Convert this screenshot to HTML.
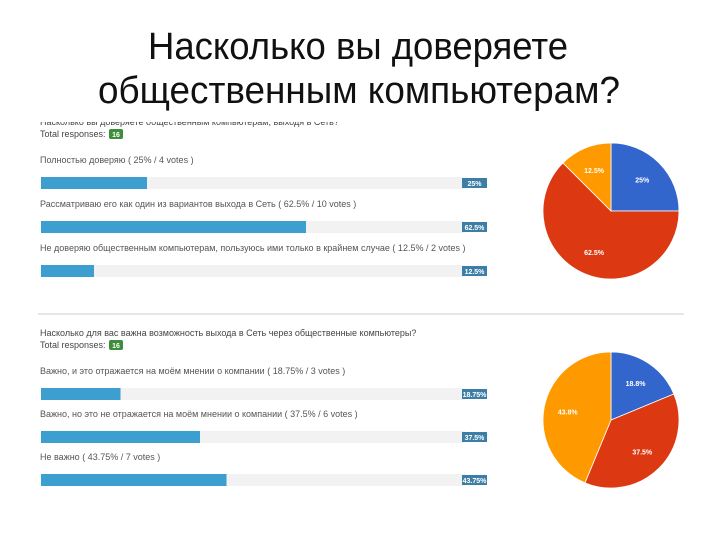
<!DOCTYPE html>
<html><head><meta charset="utf-8"><style>
html,body{margin:0;padding:0;background:#fff;width:720px;height:540px;overflow:hidden}
</style></head><body>
<svg id="s" width="720" height="540" xmlns="http://www.w3.org/2000/svg" font-family="Liberation Sans, sans-serif">
<g id="g"></g>
<rect x="30" y="108" width="330" height="14" fill="#fff"/>
<text x="358" y="59" text-anchor="middle" font-size="38" textLength="420" lengthAdjust="spacingAndGlyphs" fill="#111">Насколько вы доверяете</text>
<text x="359" y="103" text-anchor="middle" font-size="38" textLength="522" lengthAdjust="spacingAndGlyphs" fill="#111">общественным компьютерам?</text>
</svg>
<script>
const q1Labels=["Полностью доверяю","Рассматриваю его как один из вариантов выхода в Сеть","Не доверяю общественным компьютерам, пользуюсь ими только в крайнем случае"];
const q1Values=[25,62.5,12.5];
const q1Votes=[4,10,2];
const q1Pie=[25,62.5,12.5];
const q2Labels=["Важно, и это отражается на моём мнении о компании","Важно, но это не отражается на моём мнении о компании","Не важно"];
const q2Values=[18.75,37.5,43.75];
const q2Votes=[3,6,7];
const pieColors=["#3366cc","#dc3912","#ff9900"];
const NS="http://www.w3.org/2000/svg";
const g=document.getElementById('g');
function mk(t,a,txt){const e=document.createElementNS(NS,t);for(const k in a)e.setAttribute(k,a[k]);if(txt!=null)e.textContent=txt;g.appendChild(e);return e;}
const trackX=41,trackW=424;
function xs(v){return trackW*v/100;}
function fmt(v){return (Math.round(v*100)/100)+'%';}
function section(labels,values,votes,question,qy,labelYs,name){
  if(question){const t=mk('text',{x:40,y:qy,'font-size':9,fill:'#444'},question);
  
  }
  const tt=mk('text',{x:40,y:qy+12,'font-size':9,fill:'#444'},'Total responses:');
  
  
  const b=mk('rect',{x:109,y:qy+4,width:14,height:10,rx:2,fill:'#3c8d3c'});
  
  
  const bt=mk('text',{x:116,y:qy+12,'font-size':7,'font-weight':'bold',fill:'#fff','text-anchor':'middle'},'16');
  
  
  labels.forEach((l,i)=>{
    const y=labelYs[i];
    const lt=mk('text',{x:40,y:y,'font-size':9,fill:'#555'},l+' ( '+values[i]+'% / '+votes[i]+' votes )');
    
    
    const tr=mk('rect',{x:trackX,y:y+14,width:trackW,height:12,fill:'#f2f2f2'});
    
    
    const f=mk('rect',{x:trackX,y:y+14,width:xs(values[i]),height:12,fill:'#3d9fd0'});
    
    
    const pl=mk('rect',{x:462,y:y+15,width:25,height:10,fill:'#3d7ea6'});
    
    
    const pt=mk('text',{x:474.5,y:y+23,'font-size':7,'font-weight':'bold',fill:'#fff','text-anchor':'middle'},fmt(values[i]));
    
    
  });
}
function pie(vals,cx,cy,r,name){
  let a=0;
  vals.forEach((v,i)=>{
    const a0=a,a1=a+v/100*2*Math.PI;a=a1;
    const x0=cx+r*Math.sin(a0),y0=cy-r*Math.cos(a0),x1=cx+r*Math.sin(a1),y1=cy-r*Math.cos(a1);
    const p=mk('path',{d:`M${cx},${cy}L${x0},${y0}A${r},${r} 0 ${a1-a0>Math.PI?1:0} 1 ${x1},${y1}Z`,fill:pieColors[i],stroke:'#fff','stroke-width':0.8});
    
    
    const m=(a0+a1)/2;
    const t=mk('text',{x:cx+r*0.65*Math.sin(m),y:cy-r*0.65*Math.cos(m)+3,'font-size':7,'font-weight':'bold',fill:'#fff','text-anchor':'middle'},(Math.round(v*10)/10)+'%');
    
    
  });
}
section(q1Labels,q1Values,q1Votes,'Насколько вы доверяете общественным компьютерам, выходя в Сеть?',125,[163,207,251],'q1');
const hl=mk('rect',{x:38,y:313,width:646,height:2,fill:'#e6e6e6'});


section(q2Labels,q2Values,q2Votes,'Насколько для вас важна возможность выхода в Сеть через общественные компьютеры?',336,[374,417,460],'q2');
pie(q1Pie,611,211,68,'pie1');
pie(q2Values,611,420,68,'pie2');
</script>
</body></html>
